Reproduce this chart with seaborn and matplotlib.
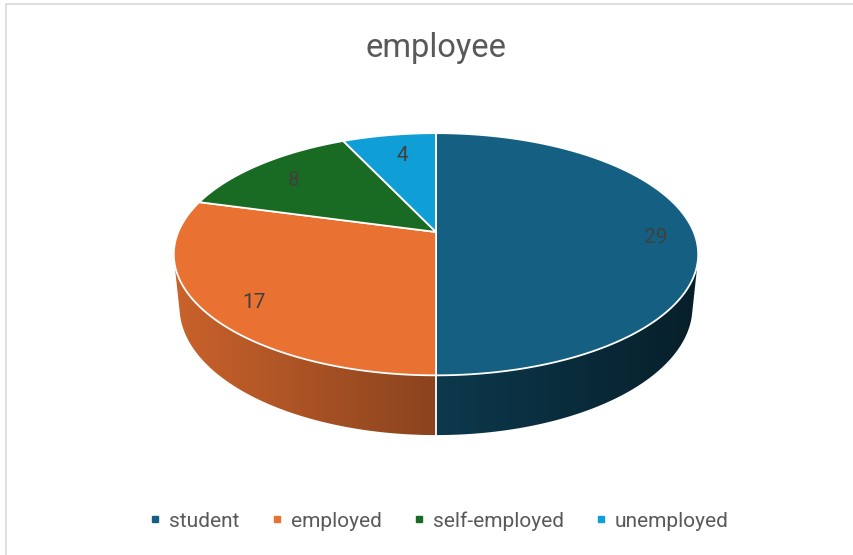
import numpy as np
import matplotlib
matplotlib.use("Agg")
import matplotlib.pyplot as plt
from matplotlib.patches import Polygon
from matplotlib.lines import Line2D
from matplotlib.colors import to_rgb
import seaborn as sns

# ---------------- data ----------------
title = "employee"
categories = ["student", "employed", "self-employed", "unemployed"]
values = [29, 17, 8, 4]
colors = ["#156082", "#E97132", "#196B24", "#0F9ED5"]

sns.set_theme(style="white")
plt.rcParams["font.family"] = ["Roboto", "DejaVu Sans"]
palette = sns.color_palette(colors)

W, H = 854, 555
fig = plt.figure(figsize=(W / 100, H / 100), dpi=100)
ax = fig.add_axes([0, 0, 1, 1])
ax.set_xlim(0, W)
ax.set_ylim(H, 0)
ax.axis("off")

# chart frame (light gray)
ax.plot([6, W], [4, 4], color="#D9D9D9", lw=1.2)
ax.plot([6, 6], [4, H], color="#D9D9D9", lw=1.2)

# ---------------- 3D perspective projection ----------------
CX, CY = 436.0, 232.0
F = 1250.0
ELEV = np.deg2rad(27.0)
se, ce = np.sin(ELEV), np.cos(ELEV)
D = 4.85
HGT = 0.2315


def proj(phi, r=1.0, z=0.0):
    x3 = r * np.cos(phi)
    y3 = r * np.sin(phi)
    d = y3 * ce - z * se + D
    u = y3 * se + z * ce
    return CX + F * x3 / d, CY - F * u / d


total = float(sum(values))
bounds = 90.0 - 360.0 * np.concatenate([[0], np.cumsum(values)]) / total
vis_thr = -1.0 / (D * ce)

xmin, xmax = CX - 266, CX + 266


def shade(x):
    return 0.87 - 0.55 * (x - xmin) / (xmax - xmin)


# ---- side walls ----
for i, col in enumerate(palette):
    a0, a1 = np.deg2rad(bounds[i]), np.deg2rad(bounds[i + 1])
    phis = np.linspace(a1, a0, 600)
    vis = np.sin(phis) < vis_thr
    if not vis.any():
        continue
    p = phis[vis]
    tx, ty = proj(p)
    bx, by = proj(p, z=-HGT)
    pts = np.column_stack([np.r_[tx, bx[::-1]], np.r_[ty, by[::-1]]])
    patch = Polygon(pts, closed=True, facecolor="none", edgecolor="none",
                    transform=ax.transData)
    ax.add_patch(patch)
    xs = np.linspace(xmin, xmax, 400)
    base = np.array(to_rgb(col))
    img = np.clip(shade(xs)[:, None] * base[None, :], 0, 1)[None, :, :]
    im = ax.imshow(img, extent=(xmin, xmax, 460, 150), aspect="auto",
                   interpolation="bilinear", zorder=1)
    im.set_clip_path(patch)

# boundary lines on the side wall
for b in bounds[:-1]:
    phi = np.deg2rad(b)
    if np.sin(phi) < vis_thr:
        x0, y0 = proj(phi)
        x1, y1 = proj(phi, z=-HGT)
        ax.plot([x0, x1], [y0, y1], color="white", lw=1.3, zorder=2)

# ---- top surface ----
for i, col in enumerate(palette):
    a0, a1 = np.deg2rad(bounds[i]), np.deg2rad(bounds[i + 1])
    phis = np.linspace(a0, a1, 300)
    ex, ey = proj(phis)
    pts = np.column_stack([np.r_[CX, ex], np.r_[CY, ey]])
    ax.add_patch(Polygon(pts, closed=True, facecolor=col, edgecolor="white",
                         lw=1.3, joinstyle="round", zorder=3))

# ---- data labels ----
for i, v in enumerate(values):
    mid = np.deg2rad((bounds[i] + bounds[i + 1]) / 2)
    lx, ly = proj(mid, r=0.83)
    ax.annotate(str(v), (lx, ly), xytext=(4.3, -4.3), textcoords="offset points",
                ha="center", va="center", fontsize=15, color="#404040",
                zorder=4)

# ---- title ----
ax.text(436, 48, title, ha="center", va="center", fontsize=23.5,
        color="#595959")

# ---- legend ----
handles = [Line2D([], [], marker="s", linestyle="none", markersize=4.5,
                  markerfacecolor=c, markeredgecolor=c) for c in palette]
fig.legend(handles, categories, loc="center", ncol=4,
           bbox_to_anchor=(440 / W, 1 - 521 / H), frameon=False,
           fontsize=15, labelcolor="#595959", handlelength=0.4,
           handletextpad=0.46, columnspacing=1.6, borderpad=0)

fig.savefig("out.png", dpi=100, facecolor="white")
